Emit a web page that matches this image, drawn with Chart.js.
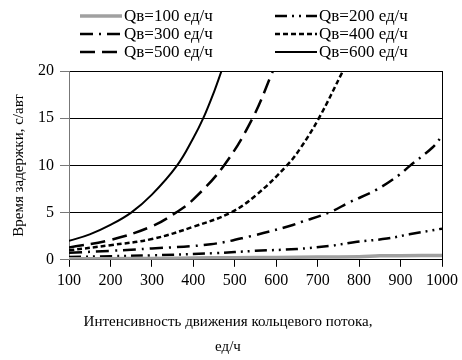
<!DOCTYPE html>
<html>
<head>
<meta charset="utf-8">
<script src="https://cdn.jsdelivr.net/npm/chart.js@4.4.1/dist/chart.umd.min.js"></script>
<style>
    html, body { margin: 0; padding: 0; background: #fff; }
    #wrap { width: 462px; height: 360px; }
</style>
</head>
<body>
<div id="wrap"><canvas id="delayChart" width="462" height="360"></canvas></div>
<script>
// Подписи
const legendLabels = ["Qв=100 ед/ч", "Qв=200 ед/ч", "Qв=300 ед/ч", "Qв=400 ед/ч", "Qв=500 ед/ч", "Qв=600 ед/ч"];
const xTicks = [100, 200, 300, 400, 500, 600, 700, 800, 900, 1000];
const yTicks = [0, 5, 10, 15, 20];

// Qв=100
const q100X = [100, 200, 300, 400, 500, 600, 700, 800, 850, 900, 1000];
const q100Y = [0.1, 0.12, 0.15, 0.2, 0.22, 0.25, 0.3, 0.32, 0.42, 0.44, 0.45];
// Qв=200
const q200X = [100, 200, 300, 450, 550, 650, 729, 795, 867, 921, 1000];
const q200Y = [0.3, 0.38, 0.47, 0.7, 0.95, 1.15, 1.47, 1.9, 2.25, 2.7, 3.3];
// Qв=300
const q300X = [100, 200, 300, 442, 538, 634, 660, 730, 777, 841, 897, 921, 977, 1000];
const q300Y = [0.75, 0.95, 1.2, 1.65, 2.5, 3.6, 4.0, 5.05, 6.1, 7.4, 9.0, 9.9, 11.9, 13.1];
// Qв=400
const q400X = [100, 200, 300, 400, 490, 550, 626, 658, 703, 761];
const q400Y = [1.0, 1.55, 2.2, 3.5, 5.0, 6.8, 10, 11.8, 15, 20];
// Qв=500
const q500X = [100, 200, 300, 358, 400, 474, 543, 592];
const q500Y = [1.3, 2.1, 3.55, 5.0, 6.4, 10, 15, 20];
// Qв=600
const q600X = [100, 150, 200, 250, 300, 361, 400, 424, 450, 468];
const q600Y = [2.0, 2.7, 3.7, 5.0, 6.9, 10, 12.9, 15, 17.8, 20];

function toPoints(xs, ys) {
    return xs.map((x, i) => ({x: x, y: ys[i]}));
}

const styles = [
    {color: '#a0a0a0', width: 3.5, dash: []},
    {color: '#000', width: 2.5, dash: [12, 5, 2, 5, 2, 5]},
    {color: '#000', width: 2.5, dash: [13, 6, 2, 6]},
    {color: '#000', width: 2.5, dash: [5, 3]},
    {color: '#000', width: 2.5, dash: [15, 7]},
    {color: '#000', width: 2, dash: []}
];

const series = [
    toPoints(q100X, q100Y),
    toPoints(q200X, q200Y),
    toPoints(q300X, q300Y),
    toPoints(q400X, q400Y),
    toPoints(q500X, q500Y),
    toPoints(q600X, q600Y)
];

const datasets = series.map((pts, i) => ({
    label: legendLabels[i],
    data: pts,
    borderColor: styles[i].color,
    borderWidth: styles[i].width,
    borderDash: styles[i].dash,
    pointRadius: 0,
    fill: false,
    tension: 0.4
}));

const serif = '"Liberation Serif", "Times New Roman", serif';

// легенда в две колонки, как в оригинале
const legendPlugin = {
    id: 'twoColLegend',
    afterDraw(chart) {
        const ctx = chart.ctx;
        const cols = [80, 275];
        const rows = [16, 34, 52];
        ctx.save();
        ctx.font = '17px ' + serif;
        ctx.fillStyle = '#000';
        ctx.textBaseline = 'middle';
        chart.data.datasets.forEach((ds, i) => {
            const x = cols[i % 2];
            const y = rows[Math.floor(i / 2)];
            ctx.beginPath();
            ctx.strokeStyle = ds.borderColor;
            ctx.lineWidth = ds.borderWidth;
            ctx.setLineDash(ds.borderDash);
            ctx.moveTo(x, y);
            ctx.lineTo(x + 42, y);
            ctx.stroke();
            ctx.setLineDash([]);
            ctx.fillText(ds.label, x + 44, y + 1);
        });
        ctx.restore();
    }
};

new Chart(document.getElementById('delayChart').getContext('2d'), {
    type: 'line',
    data: {datasets: datasets},
    options: {
        responsive: false,
        animation: false,
        layout: {padding: {top: 71, right: 16, left: 10, bottom: 0}},
        plugins: {
            legend: {display: false},
            tooltip: {enabled: false},
            title: {
                display: true,
                position: 'bottom',
                text: ['Интенсивность движения кольцевого потока,', 'ед/ч'],
                color: '#000',
                font: {family: serif, size: 15, weight: 'normal', lineHeight: 1.7},
                padding: {top: 15, bottom: 0}
            }
        },
        scales: {
            x: {
                type: 'linear',
                min: 100,
                max: 1000,
                afterBuildTicks: axis => { axis.ticks = xTicks.map(v => ({value: v})); },
                ticks: {color: '#000', font: {family: serif, size: 16}, padding: 4, maxRotation: 0,
                    callback: v => String(v)},
                grid: {
                    color: c => (c.tick && c.tick.value === 1000) ? '#000' : 'rgba(0,0,0,0)',
                    tickColor: '#000',
                    tickLength: 7,
                    lineWidth: 1
                },
                border: {color: '#000', width: 1}
            },
            y: {
                min: 0,
                max: 20,
                afterBuildTicks: axis => { axis.ticks = yTicks.map(v => ({value: v})); },
                ticks: {color: '#000', font: {family: serif, size: 16}, padding: 6},
                grid: {color: '#000', tickColor: '#777', tickLength: 9, lineWidth: 1},
                border: {color: '#777', width: 1},
                title: {
                    display: true,
                    text: 'Время задержки, с/авт',
                    color: '#000',
                    font: {family: serif, size: 15},
                    padding: {top: 0, bottom: 4}
                }
            }
        }
    },
    plugins: [legendPlugin]
});
</script>
</body>
</html>
